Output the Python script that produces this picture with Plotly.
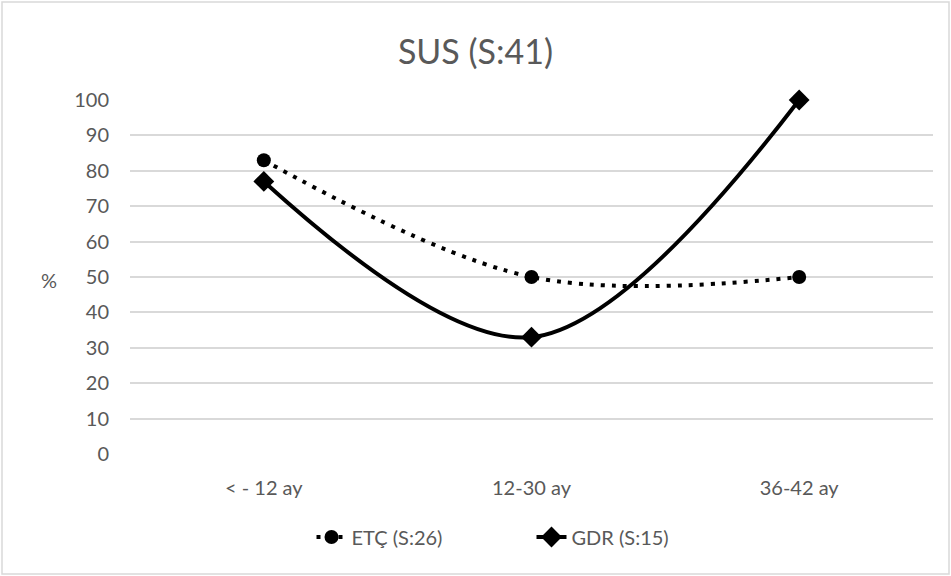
import plotly.graph_objects as go

# Age groups and percentages per group
categories = ["< - 12 ay", "12-30 ay", "36-42 ay"]
etc_values = [83, 50, 50]
gdr_values = [77, 33, 100]
y_ticks = [0, 10, 20, 30, 40, 50, 60, 70, 80, 90, 100]

W, H = 951, 576
L, R, T, B = 130, 18, 100, 122
PW, PH = W - L - R, H - T - B

TEXT = "#595959"
FONT = "Lato, 'Open Sans', sans-serif"
FS = 20

fig = go.Figure()

fig.add_trace(go.Scatter(
    x=categories, y=etc_values, name="ETÇ (S:26)",
    mode="lines+markers", cliponaxis=False,
    line=dict(color="black", width=4, dash="4px,7px", shape="spline", smoothing=1),
    marker=dict(symbol="circle", size=14, color="black"),
))

fig.add_trace(go.Scatter(
    x=categories, y=gdr_values, name="GDR (S:15)",
    mode="lines+markers", cliponaxis=False,
    line=dict(color="black", width=4, shape="spline", smoothing=1),
    marker=dict(symbol="diamond", size=16, color="black"),
))


def px_x(px):
    return (px - L) / PW


def px_y(py):
    return (H - B - py) / PH


fig.update_layout(
    width=W, height=H,
    margin=dict(l=L, r=R, t=T, b=B),
    paper_bgcolor="white", plot_bgcolor="white",
    font=dict(family=FONT, color=TEXT, size=FS),
    title=dict(text="SUS (S:41)", x=0.5, xanchor="center",
               y=1 - 52 / H, yanchor="middle",
               font=dict(size=34, color=TEXT, family=FONT)),
    showlegend=True,
    legend=dict(orientation="h", x=0.5, xanchor="center",
                y=px_y(537), yanchor="middle",
                font=dict(size=FS, color=TEXT),
                entrywidth=175, bgcolor="rgba(0,0,0,0)"),
    xaxis=dict(type="category", range=[-0.5, 2.5], showgrid=False,
               zeroline=False, showline=False, ticks="",
               ticklabelstandoff=20, tickfont=dict(size=FS, color=TEXT)),
    yaxis=dict(range=[0, 100], tickvals=y_ticks, showgrid=True,
               gridcolor="#d9d9d9", gridwidth=1.5, zeroline=False,
               showline=False, ticks="", ticklabelstandoff=20,
               tickfont=dict(size=FS, color=TEXT)),
    shapes=[dict(type="rect", xref="paper", yref="paper",
                 x0=px_x(2), x1=px_x(949), y0=px_y(574), y1=px_y(2),
                 line=dict(color="#d9d9d9", width=1.5), layer="below")],
    annotations=[dict(text="%", xref="paper", yref="paper",
                      x=px_x(49), y=px_y(280), showarrow=False,
                      xanchor="center", yanchor="middle",
                      font=dict(size=FS, color=TEXT))],
)

fig.write_html("out.html")
